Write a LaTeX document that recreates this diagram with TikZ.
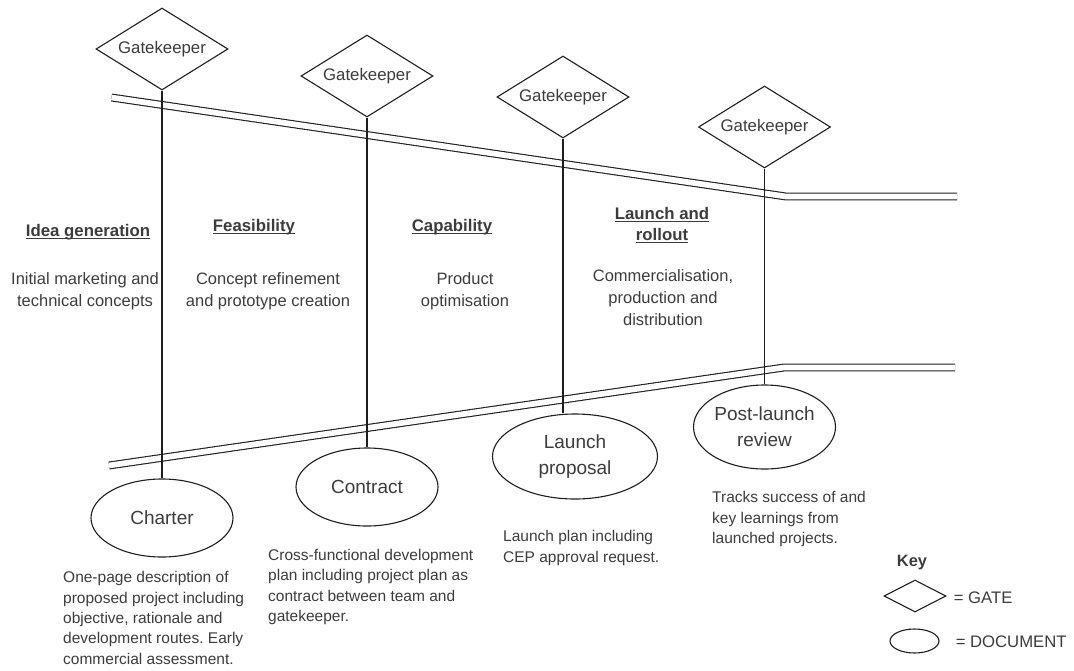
\documentclass[tikz,border=0pt]{standalone}
\usepackage{fontspec}
\setmainfont{Liberation Sans}
\usetikzlibrary{shapes.geometric}
\definecolor{ink}{HTML}{1E1E1E}
\definecolor{txt}{HTML}{3C3C3C}
% underlined heading with an Arial-like rule
\newlength\hdlwd
\newcommand\hdl[1]{\settowidth\hdlwd{#1}\rlap{\rule[-2.4pt]{\hdlwd}{1.1pt}}#1}
\frenchspacing

\begin{document}
\begin{tikzpicture}[x=1pt,y=-1pt,
  every node/.style={text=txt, inner sep=0pt},
  gate/.style={diamond, aspect=1.6, draw=ink, line width=1.1pt, minimum width=132pt, minimum height=82pt,
    font=\fontsize{16.8}{20}\selectfont},
  doc/.style={ellipse, draw=ink, line width=1.1pt, minimum width=142pt, minimum height=78pt,
    align=center, font=\fontsize{19}{26}\selectfont},
  phase/.style={font=\fontsize{16.8}{21}\selectfont\bfseries, align=center},
  body/.style={font=\fontsize{16.5}{22}\selectfont, align=center},
  desc/.style={font=\fontsize{15.5}{20.3}\selectfont, align=left, anchor=west},
  keytext/.style={font=\fontsize{16.7}{20}\selectfont, anchor=west},
  pipe/.style={draw=ink, line width=1.1pt, double=white, double distance=5.7pt},
  link/.style={draw=ink, line width=1.1pt}
]
\useasboundingbox (0,0) rectangle (1074,670);

% funnel boundaries
\coordinate (ta) at (111.5,97.5);
\coordinate (tb) at (786,196.5);
\coordinate (tc) at (957,196.5);
\coordinate (ba) at (109,465.5);
\coordinate (bb) at (784,367.5);
\coordinate (bc) at (955,367.5);
\draw[pipe] (ta) -- (tb) -- (tc);
\draw[pipe] (ba) -- (bb) -- (bc);

% gates
\node[gate] (g1) at (162,49)   {Gatekeeper};
\node[gate] (g2) at (367,76)   {Gatekeeper};
\node[gate] (g3) at (563,97)   {Gatekeeper};
\node[gate] (g4) at (764.5,127) {Gatekeeper};

% documents
\node[doc] (charter)  at (162,518)   {Charter};
\node[doc] (contract) at (367,487)   {Contract};
\node[doc, minimum width=165pt, minimum height=85pt] (proposal) at (575,456.5) {Launch\\proposal};
\node[doc, minimum height=84pt] (review) at (764.5,427) {Post-launch\\review};

% gate-to-document links
\draw[link] (g1.south) -- (charter.north);
\draw[link] (g2.south) -- (contract.north);
\draw[link] (g3.south) -- (g3.south |- proposal.north);
\draw[link] (g4.south) -- (review.north);

% phases
\node[phase] (p1) at (88,232)    {\hdl{Idea generation}};
\node[phase] (p2) at (254,227)   {\hdl{Feasibility}};
\node[phase] (p3) at (452,227)   {\hdl{Capability}};
\node[phase] (p4) at (662,225.5) {\hdl{Launch and}\\\hdl{rollout}};

\node[body] (b1) at (85,291)  {Initial marketing and\\technical concepts};
\node[body] (b2) at (268,291) {Concept refinement\\and prototype creation};
\node[body] (b3) at (465,291) {Product\\optimisation};
\node[body] (b4) at (663,298) {Commercialisation,\\production and\\distribution};

% document descriptions
\node[desc] (d1) at (63,618) {One-page description of\\proposed project including\\objective, rationale and\\development routes. Early\\commercial assessment.};
\node[desc] (d2) at (268,587) {Cross-functional development\\plan including project plan as\\contract between team and\\gatekeeper.};
\node[desc] (d3) at (503,548) {Launch plan including\\CEP approval request.};
\node[desc] (d4) at (712,519) {Tracks success of and\\key learnings from\\launched projects.};

% key
\node[font=\fontsize{16.4}{20}\selectfont\bfseries] (key) at (912,563) {Key};
\node[gate, minimum width=62pt, minimum height=32pt] (kgate) at (915,596) {};
\node[doc, minimum width=49pt, minimum height=24pt] (kdoc) at (914.5,641) {};
\node[keytext, xshift=7pt, yshift=-2pt] (kgl) at (kgate.east) {= GATE};
\node[keytext, xshift=16pt, yshift=-1pt] (kdl) at (kdoc.east) {= DOCUMENT};
\end{tikzpicture}
\end{document}
